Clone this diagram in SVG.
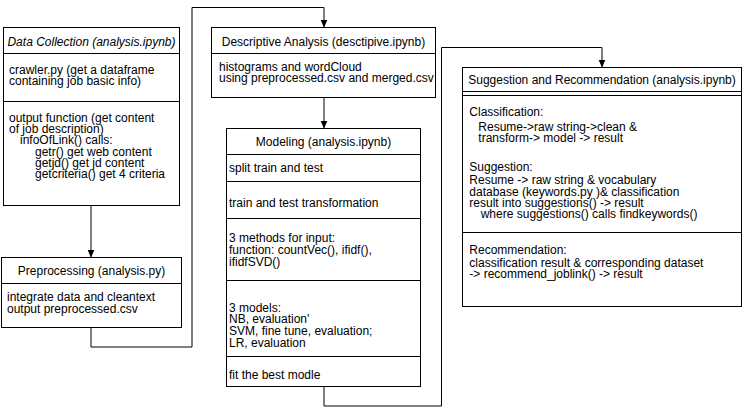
<svg xmlns="http://www.w3.org/2000/svg" width="743" height="415" viewBox="0 0 743 415">
  <style>
    .box { fill: #ffffff; stroke: #000000; stroke-width: 1; }
    .div { stroke: #000000; stroke-width: 1; fill: none; }
    .t { font-family: "Liberation Sans", Arial, Helvetica, sans-serif; font-size: 12px; fill: #000000; }
    .c { text-anchor: middle; }
    .it { font-style: italic; }
    .conn { fill: none; stroke: #000000; stroke-width: 1; }
  </style>
  <defs>
    <marker id="arr" markerUnits="userSpaceOnUse" viewBox="0 0 8 8" refX="8" refY="4" markerWidth="8" markerHeight="8" orient="auto">
      <path d="M0,0.5 L8,4 L0,7.5 z" fill="#000000"/>
    </marker>
  </defs>
  <rect width="743" height="415" fill="#ffffff"/>

  <g id="connectors">
    <path class="conn" d="M91 205.5 V257.5" marker-end="url(#arr)"/>
    <path class="conn" d="M91 327.5 V347 H192 V7.5 H324 V27.5" marker-end="url(#arr)"/>
    <path class="conn" d="M324 97.5 V128.5" marker-end="url(#arr)"/>
    <path class="conn" d="M324 386.5 V406 H441.5 V47.5 H602 V67.5" marker-end="url(#arr)"/>
  </g>

  <g id="data-collection">
    <rect class="box" x="3.5" y="27.5" width="176" height="178"/>
    <line class="div" x1="3.5" y1="53.5" x2="179.5" y2="53.5"/>
    <line class="div" x1="3.5" y1="101.5" x2="179.5" y2="101.5"/>
    <text class="t c it" x="91.5" y="46">Data Collection (analysis.ipynb)</text>
    <text class="t" x="9" y="73.5"><tspan x="9">crawler.py (get a dataframe</tspan><tspan x="9" dy="11.5">containing job basic info)</tspan></text>
    <text class="t" x="9" y="122"><tspan x="9">output function (get content</tspan><tspan x="9" dy="11.2">of job description)</tspan><tspan x="20" dy="11.2">infoOfLink() calls:</tspan><tspan x="35" dy="11.2">getr() get web content</tspan><tspan x="35" dy="11.2">getjd() get jd content</tspan><tspan x="35" dy="11.2">getcriteria() get 4 criteria</tspan></text>
  </g>

  <g id="preprocessing">
    <rect class="box" x="1.5" y="257.5" width="180" height="70"/>
    <line class="div" x1="1.5" y1="283.5" x2="181.5" y2="283.5"/>
    <text class="t c" x="91.5" y="275">Preprocessing (analysis.py)</text>
    <text class="t" x="7" y="300.5"><tspan x="7">integrate data and cleantext</tspan><tspan x="7" dy="12">output preprocessed.csv</tspan></text>
  </g>

  <g id="descriptive-analysis">
    <rect class="box" x="211.5" y="27.5" width="224" height="70"/>
    <line class="div" x1="211.5" y1="53.5" x2="435.5" y2="53.5"/>
    <text class="t c" x="323.5" y="45.5">Descriptive Analysis (desctipive.ipynb)</text>
    <text class="t" x="219" y="70.5"><tspan x="219">histograms and wordCloud</tspan><tspan x="219" dy="11.2">using preprocessed.csv and merged.csv</tspan></text>
  </g>

  <g id="modeling">
    <rect class="box" x="226.5" y="128.5" width="194" height="258"/>
    <line class="div" x1="226.5" y1="154.5" x2="420.5" y2="154.5"/>
    <line class="div" x1="226.5" y1="181.5" x2="420.5" y2="181.5"/>
    <line class="div" x1="226.5" y1="218.5" x2="420.5" y2="218.5"/>
    <line class="div" x1="226.5" y1="280.5" x2="420.5" y2="280.5"/>
    <line class="div" x1="226.5" y1="356.5" x2="420.5" y2="356.5"/>
    <text class="t c" x="323.5" y="146.3">Modeling (analysis.ipynb)</text>
    <text class="t" x="229" y="171.7">split train and test</text>
    <text class="t" x="229" y="206.7">train and test transformation</text>
    <text class="t" x="229" y="242.3"><tspan x="229">3 methods for input:</tspan><tspan x="229" dy="11.7">function: countVec(), ifidf(),</tspan><tspan x="229" dy="11.7">ifidfSVD()</tspan></text>
    <text class="t" x="229" y="311.7"><tspan x="229">3 models:</tspan><tspan x="229" dy="11.7">NB, evaluation'</tspan><tspan x="229" dy="11.7">SVM, fine tune, evaluation;</tspan><tspan x="229" dy="11.7">LR, evaluation</tspan></text>
    <text class="t" x="229" y="379">fit the best modle</text>
  </g>

  <g id="suggestion-recommendation">
    <rect class="box" x="462.5" y="67.5" width="279" height="239"/>
    <line class="div" x1="462.5" y1="91.5" x2="741.5" y2="91.5"/>
    <line class="div" x1="462.5" y1="95.5" x2="741.5" y2="95.5"/>
    <line class="div" x1="462.5" y1="232.5" x2="741.5" y2="232.5"/>
    <text class="t c" x="602" y="83.5">Suggestion and Recommendation (analysis.ipynb)</text>
    <text class="t" x="469.3" y="115.5"><tspan x="469.3">Classification:</tspan><tspan x="478.3" dy="15">Resume-&gt;raw string-&gt;clean &amp;</tspan><tspan x="478.3" dy="11.7">transform-&gt; model -&gt; result</tspan></text>
    <text class="t" x="469.3" y="170.7"><tspan x="469.3">Suggestion:</tspan><tspan x="469.3" dy="13.3">Resume -&gt; raw string &amp; vocabulary</tspan><tspan x="469.3" dy="11.7">database (keywords.py )&amp; classification</tspan><tspan x="469.3" dy="11.6">result into suggestions() -&gt; result</tspan><tspan x="480.7" dy="11.1">where suggestions() calls findkeywords()</tspan></text>
    <text class="t" x="469.3" y="254"><tspan x="469.3">Recommendation:</tspan><tspan x="469.3" dy="12.7">classification result &amp; corresponding dataset</tspan><tspan x="469.3" dy="11.6">-&gt; recommend_joblink() -&gt; result</tspan></text>
  </g>
</svg>
